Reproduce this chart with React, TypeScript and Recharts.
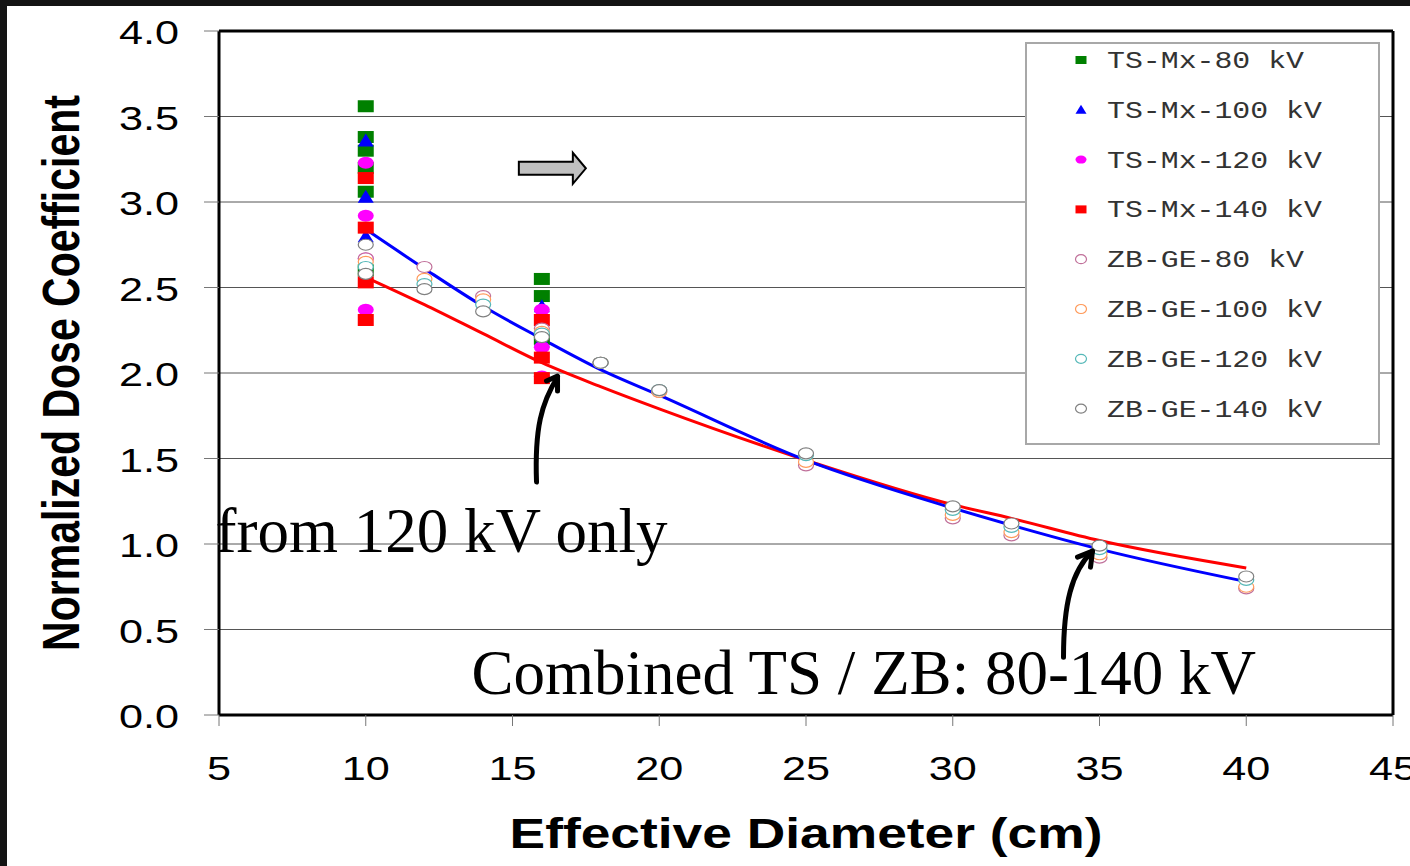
import React from 'react';
import {
  ComposedChart,
  Scatter,
  Line,
  XAxis,
  YAxis,
  CartesianGrid,
  ReferenceLine,
  ReferenceDot,
} from 'recharts';

// axis ticks
const xTicks = [5, 10, 15, 20, 25, 30, 35, 40, 45];
const yTicks = [0, 0.5, 1, 1.5, 2, 2.5, 3, 3.5, 4];

// TS-Mx measurements (diameter, coefficient)
const ts80X = [10, 10, 10, 10, 10, 10, 16, 16, 16];
const ts80Y = [3.56, 3.38, 3.3, 3.2, 3.06, 2.6, 2.55, 2.45, 2.2];
const ts100X = [10, 10, 10, 16, 16];
const ts100Y = [3.36, 3.03, 2.8, 2.39, 2.19];
const ts120X = [10, 10, 10, 10, 16, 16, 16];
const ts120Y = [3.23, 2.92, 2.67, 2.37, 2.37, 2.15, 1.98];
const ts140X = [10, 10, 10, 10, 16, 16, 16];
const ts140Y = [3.14, 2.85, 2.53, 2.31, 2.31, 2.09, 1.97];

// ZB-GE measurements
const zbX = [10, 12, 14, 16, 18, 20, 25, 30, 32, 35, 40];
const zb80Y = [2.67, 2.62, 2.45, 2.26, 2.06, 1.89, 1.46, 1.15, 1.05, 0.92, 0.74];
const zb100Y = [2.65, 2.55, 2.43, 2.24, 2.06, 1.89, 1.48, 1.17, 1.07, 0.94, 0.75];
const zb120Y = [2.62, 2.52, 2.4, 2.23, 2.06, 1.9, 1.52, 1.2, 1.1, 0.97, 0.79];
const zb140Y = [2.58, 2.49, 2.36, 2.21, 2.06, 1.9, 1.53, 1.22, 1.12, 0.99, 0.81];
const zb140ExtraX = [10];
const zb140ExtraY = [2.75];

// fitted curves
const fitX = [10, 12, 14, 16, 18, 20, 25, 30, 32, 35, 40];
const combinedFitY = [2.84, 2.61, 2.39, 2.2, 2.02, 1.87, 1.49, 1.21, 1.11, 0.97, 0.78];
const kv120FitY = [2.56, 2.4, 2.23, 2.06, 1.92, 1.79, 1.49, 1.23, 1.15, 1.02, 0.86];

const pts = (xs: number[], ys: number[]) => xs.map((x, i) => ({ x, y: ys[i] }));

const SX = 1.27; // the original figure is stretched horizontally
const SANS = '"Liberation Sans", Arial, sans-serif';
const serif = '"Liberation Serif", "Times New Roman", serif';

type Kind = 'square' | 'triangle' | 'dot' | 'ring';

const series: { name: string; color: string; kind: Kind; data: { x: number; y: number }[] }[] = [
  { name: 'TS-Mx-80 kV', color: '#008000', kind: 'square', data: pts(ts80X, ts80Y) },
  { name: 'TS-Mx-100 kV', color: '#0000ff', kind: 'triangle', data: pts(ts100X, ts100Y) },
  { name: 'TS-Mx-120 kV', color: '#ff00ff', kind: 'dot', data: pts(ts120X, ts120Y) },
  { name: 'TS-Mx-140 kV', color: '#ff0000', kind: 'square', data: pts(ts140X, ts140Y) },
  { name: 'ZB-GE-80 kV', color: '#c0709a', kind: 'ring', data: pts(zbX, zb80Y) },
  { name: 'ZB-GE-100 kV', color: '#ff9a5a', kind: 'ring', data: pts(zbX, zb100Y) },
  { name: 'ZB-GE-120 kV', color: '#55b8b8', kind: 'ring', data: pts(zbX, zb120Y) },
  {
    name: 'ZB-GE-140 kV',
    color: '#808080',
    kind: 'ring',
    data: [...pts(zbX, zb140Y), ...pts(zb140ExtraX, zb140ExtraY)],
  },
];

function marker(kind: Kind, color: string, cx: number, cy: number, w: number, h: number) {
  if (kind === 'square') return <rect x={cx - w / 2} y={cy - h / 2} width={w} height={h} fill={color} />;
  if (kind === 'triangle')
    return <polygon points={`${cx},${cy - h / 2 - 1} ${cx + w / 2},${cy + h / 2} ${cx - w / 2},${cy + h / 2}`} fill={color} />;
  if (kind === 'dot') return <ellipse cx={cx} cy={cy} rx={w / 2} ry={h / 2} fill={color} />;
  return <ellipse cx={cx} cy={cy} rx={w / 2 - 0.5} ry={h / 2 - 0.5} fill="#fff" stroke={color} strokeWidth={1.2} />;
}

const YTick = (props: any) => {
  const { x, y, payload } = props;
  return (
    <text transform={`translate(${x},${y + 13}) scale(${SX},1)`} textAnchor="end" fontFamily={SANS} fontSize={34} fill="#000">
      {Number(payload.value).toFixed(1)}
    </text>
  );
};

const XTick = (props: any) => {
  const { x, y, payload } = props;
  return (
    <text transform={`translate(${x},${y + 24}) scale(${SX},1)`} textAnchor="middle" fontFamily={SANS} fontSize={34} fill="#000">
      {payload.value}
    </text>
  );
};

const LegendBox = () => (
  <svg width={355} height={403} style={{ display: 'block' }}>
    <rect x={1} y={1} width={353} height={401} fill="#fff" stroke="#a8a8a8" strokeWidth={2} />
    {series.map((s, i) => {
      const cy = 18 + i * 49.8;
      return (
        <g key={s.name}>
          {s.kind === 'ring'
            ? <ellipse cx={56} cy={cy} rx={5.5} ry={4.5} fill="#fff" stroke={s.color} strokeWidth={1.2} />
            : marker(s.kind, s.color, 56, cy, 11, 8)}
          <text
            transform={`translate(82,${cy + 8}) scale(${SX},1)`}
            fontFamily='"Liberation Mono", "Courier New", monospace'
            fontSize={23.5}
            fill="#333"
          >
            {s.name}
          </text>
        </g>
      );
    })}
  </svg>
);

export default function App() {
  return (
    <div style={{ position: 'absolute', left: 0, top: 0, width: 1410, height: 866, background: '#141414' }}>
      <div style={{ position: 'absolute', left: 7, top: 6, width: 1403, height: 860, background: '#fff' }}>
        <ComposedChart width={1403} height={860} margin={{ top: 25, right: 17, left: 30, bottom: 51 }}>
          <CartesianGrid vertical={false} stroke="#555" strokeWidth={1} />
          <XAxis
            type="number"
            dataKey="x"
            domain={[5, 45]}
            ticks={xTicks}
            interval={0}
            height={100}
            tickSize={11}
            tickMargin={30}
            tickLine={{ stroke: '#777' }}
            axisLine={{ stroke: '#000', strokeWidth: 3 }}
            tick={<XTick />}
            label={{
              content: (p: any) => {
                const vb = p.viewBox;
                return (
                  <text
                    transform={`translate(${vb.x + vb.width / 2},${vb.y + 133}) scale(${SX},1)`}
                    textAnchor="middle"
                    fontFamily={SANS}
                    fontWeight="bold"
                    fontSize={42}
                    fill="#000"
                  >
                    Effective Diameter (cm)
                  </text>
                );
              },
            }}
          />
          <YAxis
            type="number"
            dataKey="y"
            domain={[0, 4]}
            ticks={yTicks}
            interval={0}
            width={182}
            tickSize={15}
            tickMargin={25}
            tickLine={{ stroke: '#777' }}
            axisLine={{ stroke: '#000', strokeWidth: 3 }}
            tick={<YTick />}
            label={{
              content: (p: any) => {
                const vb = p.viewBox;
                return (
                  <text
                    transform={`translate(${vb.x + 42},${vb.y + vb.height / 2}) scale(${SX},1) rotate(-90)`}
                    textAnchor="middle"
                    fontFamily={SANS}
                    fontWeight="bold"
                    fontSize={41}
                    fill="#000"
                  >
                    Normalized Dose Coefficient
                  </text>
                );
              },
            }}
          />
          <ReferenceLine y={4} stroke="#000" strokeWidth={3} />
          <ReferenceLine x={45} stroke="#000" strokeWidth={3} />

          {series.map((s) => (
            <Scatter
              key={s.name}
              name={s.name}
              data={s.data}
              fill={s.color}
              isAnimationActive={false}
              shape={(p: any) => marker(s.kind, s.color, p.cx, p.cy, 16, 12)}
            />
          ))}

          <Line
            data={pts(fitX, kv120FitY)}
            dataKey="y"
            type="monotone"
            stroke="#ff0000"
            strokeWidth={3}
            dot={false}
            activeDot={false}
            legendType="none"
            isAnimationActive={false}
          />
          <Line
            data={pts(fitX, combinedFitY)}
            dataKey="y"
            type="monotone"
            stroke="#0000ff"
            strokeWidth={3}
            dot={false}
            activeDot={false}
            legendType="none"
            isAnimationActive={false}
          />

          {/* grey block arrow */}
          <ReferenceDot
            x={16}
            y={3.2}
            ifOverflow="visible"
            shape={(p: any) => (
              <polygon
                points={[
                  [p.cx - 23, p.cy - 6],
                  [p.cx + 31, p.cy - 6],
                  [p.cx + 31, p.cy - 15],
                  [p.cx + 44, p.cy + 0.5],
                  [p.cx + 31, p.cy + 16],
                  [p.cx + 31, p.cy + 7],
                  [p.cx - 23, p.cy + 7],
                ]
                  .map((q) => q.join(','))
                  .join(' ')}
                fill="#c0c0c0"
                stroke="#000"
                strokeWidth={2}
              />
            )}
          />

          {/* arrow to the 120 kV fit */}
          <ReferenceDot
            x={16.5}
            y={2.0}
            ifOverflow="visible"
            shape={(p: any) => (
              <g fill="none" stroke="#000" strokeWidth={5} strokeLinecap="round" strokeLinejoin="round">
                <path d={`M ${p.cx - 20} ${p.cy + 109} C ${p.cx - 22} ${p.cy + 55}, ${p.cx - 15} ${p.cy + 30}, ${p.cx + 1} ${p.cy + 4}`} />
                <path d={`M ${p.cx - 10} ${p.cy + 8} L ${p.cx + 1} ${p.cy + 3} L ${p.cx + 1} ${p.cy + 18}`} />
              </g>
            )}
          />
          <ReferenceDot
            x={16.5}
            y={2.0}
            ifOverflow="visible"
            shape={(p: any) => (
              <text x={p.cx - 341} y={p.cy + 179} fontFamily={serif} fontSize={63} fill="#000">
                from 120 kV only
              </text>
            )}
          />

          {/* arrow to the combined fit */}
          <ReferenceDot
            x={35}
            y={0.97}
            ifOverflow="visible"
            shape={(p: any) => (
              <g fill="none" stroke="#000" strokeWidth={5} strokeLinecap="round" strokeLinejoin="round">
                <path d={`M ${p.cx - 36} ${p.cy + 108} C ${p.cx - 36} ${p.cy + 55}, ${p.cx - 28} ${p.cy + 22}, ${p.cx - 7} ${p.cy + 2}`} />
                <path d={`M ${p.cx - 22} ${p.cy + 8} L ${p.cx - 7} ${p.cy + 2} L ${p.cx - 9} ${p.cy + 18}`} />
              </g>
            )}
          />
          <ReferenceDot
            x={35}
            y={0.97}
            ifOverflow="visible"
            shape={(p: any) => (
              <text x={p.cx - 628} y={p.cy + 145} fontFamily={serif} fontSize={63} fill="#000">
                Combined TS / ZB: 80-140 kV
              </text>
            )}
          />
        </ComposedChart>
        <div style={{ position: 'absolute', left: 1018, top: 36 }}>
          <LegendBox />
        </div>
      </div>
    </div>
  );
}
